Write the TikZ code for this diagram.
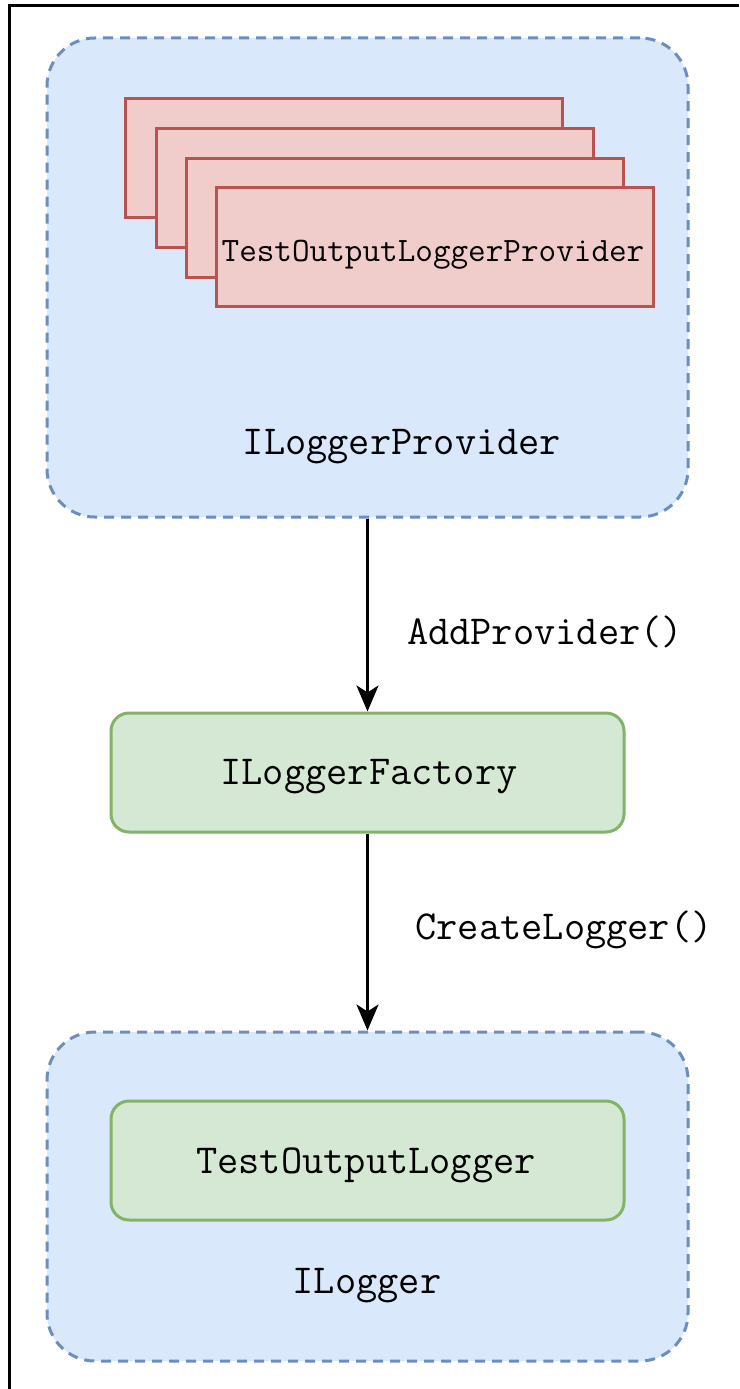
\documentclass[tikz,border=0pt]{standalone}
\usetikzlibrary{arrows.meta}
\definecolor{bluefill}{HTML}{DAE8FC}
\definecolor{bluestroke}{HTML}{6C8EBF}
\definecolor{greenfill}{HTML}{D5E8D4}
\definecolor{greenstroke}{HTML}{82B366}
\definecolor{redfill}{HTML}{F0CDCB}
\definecolor{redstroke}{HTML}{B85450}
\tikzset{
  container/.style={draw=bluestroke, fill=bluefill, line width=3pt, dash pattern=on 10pt off 7pt, rounded corners=48pt, inner sep=0pt},
  greenbox/.style={draw=greenstroke, fill=greenfill, line width=3pt, rounded corners=18pt, minimum width=513pt, minimum height=119pt, inner sep=0pt},
  redbox/.style={draw=redstroke, fill=redfill, line width=3pt, minimum width=437pt, minimum height=119pt, inner sep=0pt},
  lbl/.style={font=\ttfamily\fontsize{41.2}{46}\selectfont, inner sep=0pt},
  arr/.style={line width=3pt, -{Stealth[length=26pt, width=22pt, inset=7pt]}},
}
\begin{document}
\begin{tikzpicture}[x=1pt, y=-1pt]
\useasboundingbox (0,0) rectangle (739,1389);
\fill[white] (0,0) rectangle (739,1389);
\coordinate (ftop) at (9,6);
\coordinate (fleft) at (9,1389);
\coordinate (fright) at (739,6);
\draw[line width=3pt] (fleft) -- (ftop) -- (fright);

\node[container, minimum width=641pt, minimum height=479pt] (prov) at (367.5,277.5) {};
\node[redbox] (r1) at (343.5,157.5) {};
\node[redbox] (r2) at (374.5,187.5) {};
\node[redbox] (r3) at (404.5,217.5) {};
\node[redbox] (r4) at (434.5,247) {};
\node[lbl, font=\ttfamily\fontsize{34.2}{39}\selectfont] (r4t) at (433,255) {TestOutputLoggerProvider};
\node[lbl] (provt) at (402,447) {ILoggerProvider};

\node[greenbox] (fact) at (367.5,772.5) {};
\node[lbl] (factt) at (369,777) {ILoggerFactory};

\node[container, minimum width=641pt, minimum height=329pt] (logc) at (367.5,1196.5) {};
\node[greenbox] (tol) at (367.5,1160.5) {};
\node[lbl] (tolt) at (366,1165) {TestOutputLogger};
\node[lbl] (logt) at (367,1286) {ILogger};

\draw[arr] (prov.south) -- (fact.north);
\draw[arr] (fact.south) -- (logc.north);
\node[lbl] (addp) at (545,632) {AddProvider()};
\node[lbl] (crl) at (564,930) {CreateLogger()};
\end{tikzpicture}
\end{document}
